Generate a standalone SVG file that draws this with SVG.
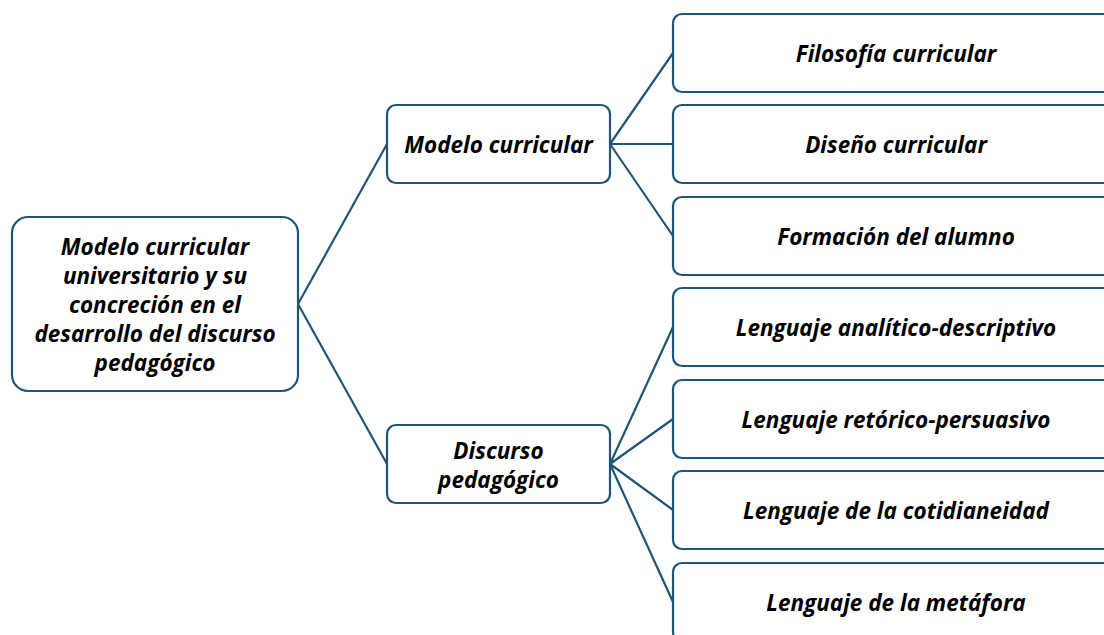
<svg xmlns="http://www.w3.org/2000/svg" width="1104" height="635" viewBox="0 0 1104 635">
<style>
.box{fill:#fff;stroke:#1f5677;stroke-width:2.2}
.lnk{fill:none;stroke:#1f5677;stroke-width:2.2}
.t{font-family:"Open Sans","Liberation Sans",sans-serif;font-weight:bold;font-style:italic;font-size:22.5px;fill:#000;text-anchor:middle;dominant-baseline:central}
</style>
<rect width="1104" height="635" fill="#fff"/>
<g id="connectors">
<path class="lnk" d="M298,304 L387,144 M298,304 L387,464"/>
<path class="lnk" d="M610,144 L673,53 M610,144 L673,144 M610,144 L673,236"/>
<path class="lnk" d="M610,464 L673,327 M610,464 L673,419 M610,464 L673,510 M610,464 L673,602"/>
</g>
<g id="root">
<rect class="box" x="12" y="217" width="286" height="174" rx="16"/>
<text class="t" x="155" y="246">Modelo curricular</text>
<text class="t" x="155" y="275">universitario y su</text>
<text class="t" x="155" y="304">concreción en el</text>
<text class="t" x="155" y="333">desarrollo del discurso</text>
<text class="t" x="155" y="362">pedagógico</text>
</g>
<g id="modelo">
<rect class="box" x="387" y="105" width="223" height="78" rx="9"/>
<text class="t" x="498.5" y="144">Modelo curricular</text>
</g>
<g id="discurso">
<rect class="box" x="387" y="425" width="223" height="78" rx="9"/>
<text class="t" x="498.5" y="450">Discurso</text>
<text class="t" x="498.5" y="479">pedagógico</text>
</g>
<g id="filosofia">
<rect class="box" x="673" y="14" width="446" height="78" rx="9"/>
<text class="t" x="896" y="53">Filosofía curricular</text>
</g>
<g id="diseno">
<rect class="box" x="673" y="105" width="446" height="78" rx="9"/>
<text class="t" x="896" y="144">Diseño curricular</text>
</g>
<g id="formacion">
<rect class="box" x="673" y="197" width="446" height="78" rx="9"/>
<text class="t" x="896" y="236">Formación del alumno</text>
</g>
<g id="analitico">
<rect class="box" x="673" y="288" width="446" height="78" rx="9"/>
<text class="t" x="896" y="327">Lenguaje analítico-descriptivo</text>
</g>
<g id="retorico">
<rect class="box" x="673" y="380" width="446" height="78" rx="9"/>
<text class="t" x="896" y="419">Lenguaje retórico-persuasivo</text>
</g>
<g id="cotidianeidad">
<rect class="box" x="673" y="471" width="446" height="78" rx="9"/>
<text class="t" x="896" y="510">Lenguaje de la cotidianeidad</text>
</g>
<g id="metafora">
<rect class="box" x="673" y="563" width="446" height="78" rx="9"/>
<text class="t" x="896" y="602">Lenguaje de la metáfora</text>
</g>
</svg>
